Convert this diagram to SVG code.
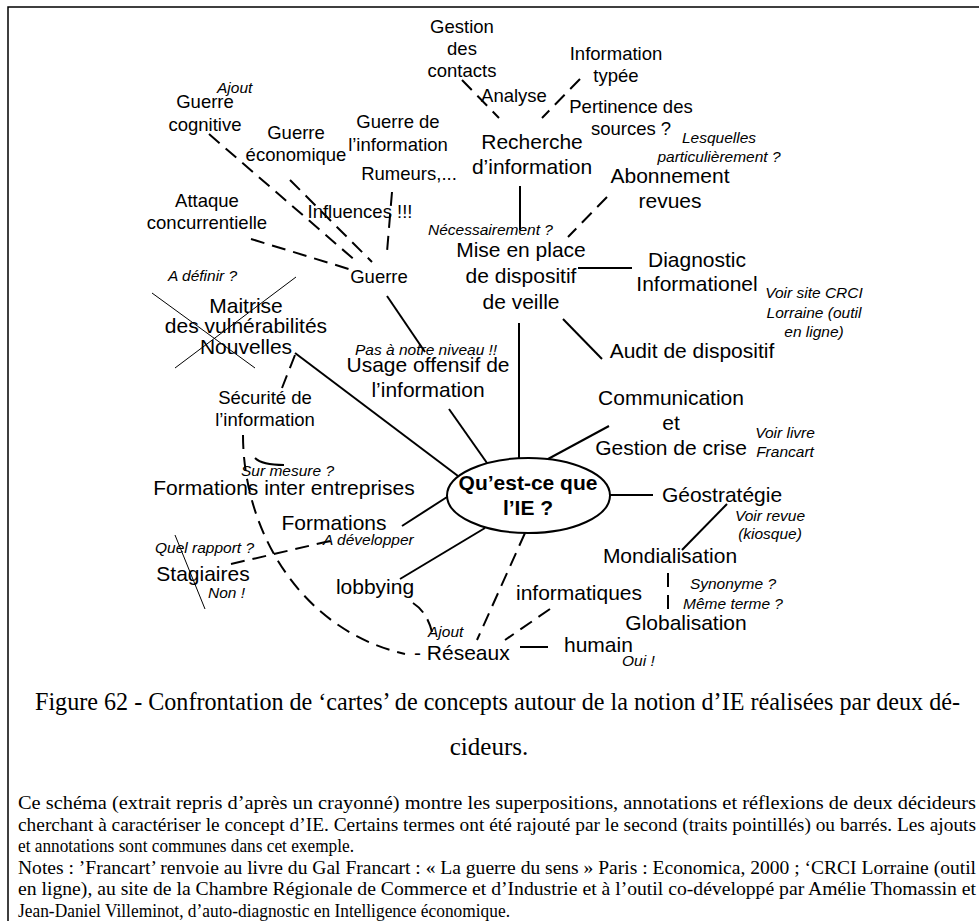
<svg xmlns="http://www.w3.org/2000/svg" width="979" height="921" viewBox="0 0 979 921">
<style>
text{font-family:"Liberation Sans",Arial,sans-serif;fill:#000}
.m{font-size:18.5px;text-anchor:middle}
.l{font-size:21px;text-anchor:middle}
.ls{font-size:21px}
.i{font-size:15.5px;font-style:italic}
.c{text-anchor:middle}
.b{font-weight:bold}
.s{stroke:#000;stroke-width:2;fill:none}
.d{stroke:#000;stroke-width:2;fill:none;stroke-dasharray:14 8}
.x{stroke:#000;stroke-width:1;fill:none}
.f{stroke:#000;stroke-width:1.5;fill:none}
.cap{font-family:"Liberation Serif","Times New Roman",serif}
.p{font-family:"Liberation Serif","Times New Roman",serif;font-size:18.5px}
</style>
<path class="f" d="M8 921 V7 H979"/>
<g id="connectors">
<line class="s" x1="520" y1="186" x2="520" y2="230"/>
<line class="s" x1="578" y1="268" x2="632" y2="268"/>
<line class="s" x1="563" y1="319" x2="602" y2="359"/>
<line class="s" x1="519" y1="323" x2="519" y2="458"/>
<line class="s" x1="387" y1="296" x2="425" y2="352"/>
<line class="s" x1="449" y1="409" x2="487" y2="463"/>
<line class="s" x1="295" y1="353" x2="458" y2="476"/>
<line class="s" x1="548" y1="459" x2="609" y2="426"/>
<line class="s" x1="610" y1="495" x2="653" y2="495"/>
<line class="s" x1="447" y1="497" x2="402" y2="526"/>
<line class="s" x1="485" y1="528" x2="400" y2="579"/>
<line class="s" x1="727" y1="504" x2="682" y2="550"/>
<line class="s" x1="520" y1="647" x2="548" y2="647"/>
<path class="s" d="M255 458 Q262 465 284 465"/>
<line class="d" x1="462" y1="80" x2="499" y2="118"/>
<line class="d" x1="580" y1="79" x2="542" y2="118"/>
<line class="d" x1="607" y1="197" x2="568" y2="237"/>
<line class="d" x1="209" y1="134" x2="357" y2="262"/>
<line class="d" x1="290" y1="180" x2="372" y2="262" stroke-dasharray="1 10 14 8 14 8 14 8 14 8 14 8"/>
<line class="d" x1="251" y1="239" x2="352" y2="270"/>
<line class="d" x1="392" y1="192" x2="387" y2="252"/>
<line class="d" x1="295" y1="355" x2="282" y2="388"/>
<path class="d" d="M243 435 C243 530 300 630 405 654"/>
<line class="d" x1="231" y1="564" x2="330" y2="541"/>
<path class="d" d="M413 603 Q427 612 432 632"/>
<line class="d" x1="525" y1="533" x2="477" y2="640"/>
<line class="d" x1="550" y1="609" x2="505" y2="640"/>
<line class="d" x1="668" y1="573" x2="668" y2="610"/>
<line class="x" x1="175" y1="368" x2="296" y2="277"/>
<line class="x" x1="152" y1="293" x2="255" y2="368"/>
<line class="x" x1="175" y1="535" x2="205" y2="609"/>
</g>
<g id="center"><ellipse class="s" cx="528.5" cy="495.5" rx="81.5" ry="37.5" fill="#fff"/>
<text class="l b" x="528" y="490">Qu’est-ce que</text><text class="l b" x="528" y="515">l’IE ?</text></g>
<g id="gestion"><text class="m" x="462" y="33">Gestion</text><text class="m" x="462" y="55">des</text><text class="m" x="462" y="77">contacts</text></g>
<g id="ajout1"><text class="i" x="217" y="93">Ajout</text></g>
<g id="guerre-cognitive"><text class="m" x="205" y="108">Guerre</text><text class="m" x="205" y="131">cognitive</text></g>
<g id="guerre-eco"><text class="m" x="296" y="139">Guerre</text><text class="m" x="296" y="161">économique</text></g>
<g id="guerre-info"><text class="m" x="398" y="128">Guerre de</text><text class="m" x="398" y="151">l’information</text></g>
<g id="rumeurs"><text class="m" x="409" y="180">Rumeurs,...</text></g>
<g id="attaque"><text class="m" x="207" y="207">Attaque</text><text class="m" x="207" y="229">concurrentielle</text></g>
<g id="influences"><text class="m" x="360" y="218">Influences !!!</text></g>
<g id="guerre"><text class="m" x="379" y="283">Guerre</text></g>
<g id="analyse"><text class="m" x="514" y="102">Analyse</text></g>
<g id="info-typee"><text class="m" x="616" y="60">Information</text><text class="m" x="616" y="82">typée</text></g>
<g id="pertinence"><text class="m" x="631" y="113">Pertinence des</text><text class="m" x="631" y="135">sources ?</text></g>
<g id="lesquelles"><text class="i c" x="719" y="143">Lesquelles</text><text class="i c" x="719" y="162">particulièrement ?</text></g>
<g id="recherche"><text class="l" x="532" y="149">Recherche</text><text class="l" x="532" y="174">d’information</text></g>
<g id="abonnement"><text class="l" x="670" y="183">Abonnement</text><text class="l" x="670" y="208">revues</text></g>
<g id="necessairement"><text class="i" x="428" y="235">Nécessairement ?</text></g>
<g id="veille"><text class="l" x="521" y="257">Mise en place</text><text class="l" x="521" y="283">de dispositif</text><text class="l" x="521" y="309">de veille</text></g>
<g id="diagnostic"><text class="l" x="697" y="267">Diagnostic</text><text class="l" x="697" y="291">Informationel</text></g>
<g id="crci"><text class="i c" x="814" y="298">Voir site CRCI</text><text class="i c" x="814" y="318">Lorraine (outil</text><text class="i c" x="814" y="337">en ligne)</text></g>
<g id="audit"><text class="l" x="692" y="358">Audit de dispositif</text></g>
<g id="adefinir"><text class="i" x="168" y="281">A définir ?</text></g>
<g id="maitrise"><text class="l" x="246" y="313">Maitrise</text><text class="l" x="246" y="333">des vulnérabilités</text><text class="l" x="246" y="354">Nouvelles</text></g>
<g id="pas-niveau"><text class="i" x="355" y="355">Pas à notre niveau !!</text></g>
<g id="usage"><text class="l" x="428" y="372">Usage offensif de</text><text class="l" x="428" y="397">l’information</text></g>
<g id="securite"><text class="m" x="265" y="404">Sécurité de</text><text class="m" x="265" y="426">l’information</text></g>
<g id="communication"><text class="l" x="671" y="405">Communication</text><text class="l" x="671" y="430">et</text><text class="l" x="671" y="455">Gestion de crise</text></g>
<g id="francart"><text class="i c" x="785" y="438">Voir livre</text><text class="i c" x="785" y="457">Francart</text></g>
<g id="surmesure"><text class="i" x="241" y="476">Sur mesure ?</text></g>
<g id="formations-inter"><text class="l" x="284" y="495">Formations inter entreprises</text></g>
<g id="geostrategie"><text class="l" x="722" y="502">Géostratégie</text></g>
<g id="revue"><text class="i c" x="770" y="521">Voir revue</text><text class="i c" x="770" y="539">(kiosque)</text></g>
<g id="formations"><text class="l" x="334" y="530">Formations</text></g>
<g id="adevelopper"><text class="i" x="323" y="545">A développer</text></g>
<g id="quelrapport"><text class="i" x="155" y="553">Quel rapport ?</text></g>
<g id="stagiaires"><text class="l" x="203" y="581">Stagiaires</text></g>
<g id="non"><text class="i" x="208" y="598">Non !</text></g>
<g id="lobbying"><text class="l" x="375" y="594">lobbying</text></g>
<g id="mondialisation"><text class="l" x="670" y="563">Mondialisation</text></g>
<g id="synonyme"><text class="i c" x="733" y="589">Synonyme ?</text><text class="i c" x="733" y="609">Même terme ?</text></g>
<g id="informatiques"><text class="l" x="579" y="600">informatiques</text></g>
<g id="globalisation"><text class="l" x="686" y="630">Globalisation</text></g>
<g id="ajout2"><text class="i" x="428" y="637">Ajout</text></g>
<g id="reseaux"><text class="ls" x="414" y="660">- Réseaux</text></g>
<g id="humain"><text class="ls" x="564" y="652">humain</text></g>
<g id="oui"><text class="i" x="622" y="666">Oui !</text></g>
<g id="caption">
<text class="cap" font-size="25" x="35" y="710" textLength="925" lengthAdjust="spacingAndGlyphs">Figure 62 - Confrontation de ‘cartes’ de concepts autour de la notion d’IE réalisées par deux dé-</text>
<text class="cap" font-size="25" x="489" y="755" text-anchor="middle">cideurs.</text>
<text class="p" x="18" y="809" textLength="958" lengthAdjust="spacingAndGlyphs">Ce schéma (extrait repris d’après un crayonné) montre les superpositions, annotations et réflexions de deux décideurs</text>
<text class="p" x="18" y="830.5" textLength="958" lengthAdjust="spacingAndGlyphs">cherchant à caractériser le concept d’IE. Certains termes ont été rajouté par le second (traits pointillés) ou barrés. Les ajouts</text>
<text class="p" x="18" y="852" textLength="336" lengthAdjust="spacingAndGlyphs">et annotations sont communes dans cet exemple.</text>
<text class="p" x="18" y="873.5" textLength="958" lengthAdjust="spacingAndGlyphs">Notes : ’Francart’ renvoie au livre du Gal Francart : « La guerre du sens » Paris : Economica, 2000 ; ‘CRCI Lorraine (outil</text>
<text class="p" x="18" y="895" textLength="958" lengthAdjust="spacingAndGlyphs">en ligne), au site de la Chambre Régionale de Commerce et d’Industrie et à l’outil co-développé par Amélie Thomassin et</text>
<text class="p" x="18" y="916.5" textLength="492" lengthAdjust="spacingAndGlyphs">Jean-Daniel Villeminot, d’auto-diagnostic en Intelligence économique.</text>
</g>
</svg>
